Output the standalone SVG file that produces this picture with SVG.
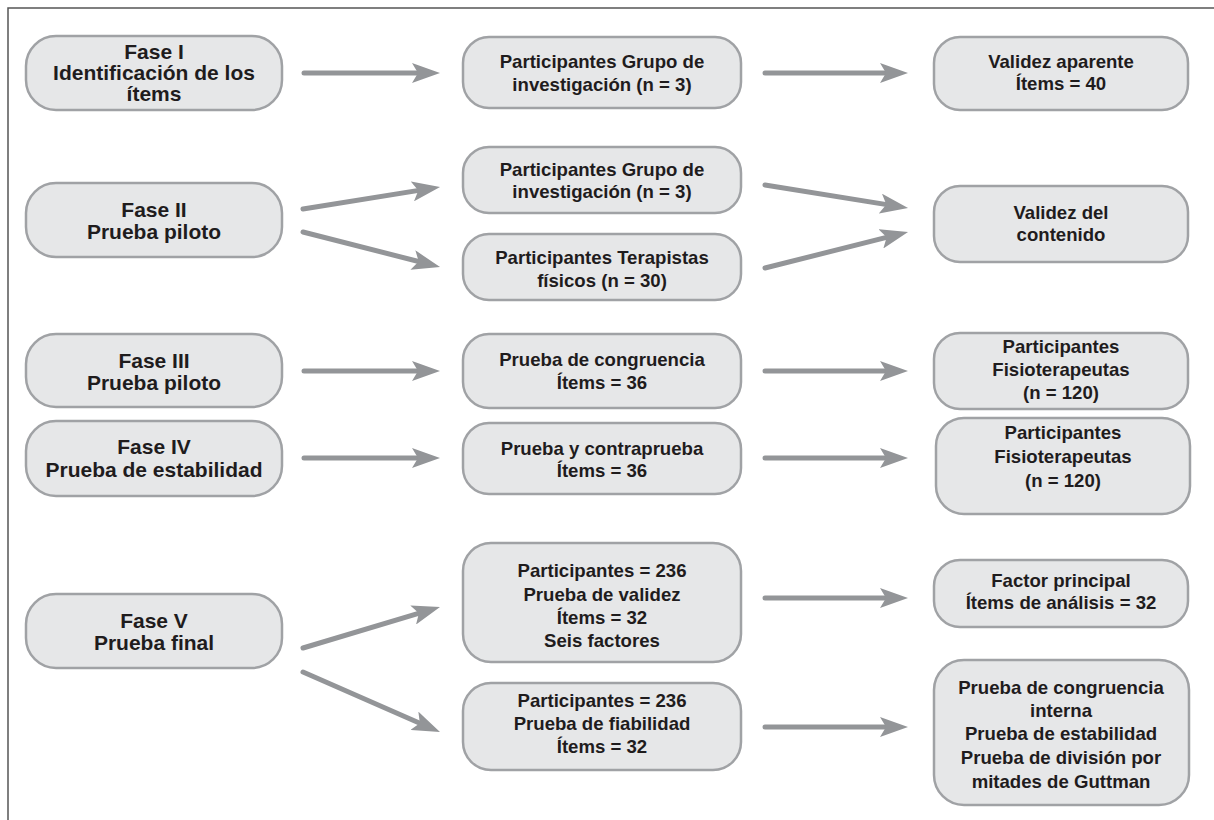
<svg xmlns="http://www.w3.org/2000/svg" width="1214" height="820" viewBox="0 0 1214 820">
<style>
.n{fill:#e6e7e8;stroke:#a0a2a5;stroke-width:2.5}
.t{font-family:"Liberation Sans",Arial,sans-serif;font-weight:bold;fill:#1f1c1d;text-anchor:middle}
.f1{font-size:21px}
.f2{font-size:18.6px}
.c{stroke:#939598;stroke-width:5;stroke-linecap:round;fill:none;marker-end:url(#ah)}
</style>
<defs>
<marker id="ah" markerWidth="28" markerHeight="20" refX="16" refY="10" orient="auto" markerUnits="userSpaceOnUse">
<path d="M0,0 L28,10 L0,20 L6,10 z" fill="#939598"/>
</marker>
</defs>
<rect width="1214" height="820" fill="#ffffff"/>
<path d="M8,820 L8,8 L1214,8" fill="none" stroke="#555" stroke-width="1.5"/>

<g id="connectors">
<line class="c" x1="304" y1="73" x2="428" y2="73"/>
<line class="c" x1="765" y1="73" x2="896" y2="73"/>
<line class="c" x1="303" y1="209" x2="428.2" y2="188.9"/>
<line class="c" x1="303" y1="232" x2="428.4" y2="264"/>
<line class="c" x1="765" y1="185" x2="896.2" y2="206.1"/>
<line class="c" x1="765" y1="268" x2="896.4" y2="234.9"/>
<line class="c" x1="304" y1="371" x2="428" y2="371"/>
<line class="c" x1="765" y1="371" x2="896" y2="371"/>
<line class="c" x1="304" y1="458" x2="428" y2="458"/>
<line class="c" x1="765" y1="458" x2="896" y2="458"/>
<line class="c" x1="303" y1="648" x2="428.5" y2="610.4"/>
<line class="c" x1="303" y1="672" x2="429" y2="727.2"/>
<line class="c" x1="765" y1="598" x2="896" y2="598"/>
<line class="c" x1="765" y1="727" x2="896" y2="727"/>
</g>

<g id="fase1">
<rect class="n" x="26" y="36" width="256" height="74" rx="30"/>
<text class="t f1"><tspan x="154" y="59">Fase I</tspan><tspan x="154" y="80">Identificación de los</tspan><tspan x="154" y="101">ítems</tspan></text>
</g>
<g id="fase2">
<rect class="n" x="26" y="183" width="256" height="74" rx="30"/>
<text class="t f1"><tspan x="154" y="217">Fase II</tspan><tspan x="154" y="239">Prueba piloto</tspan></text>
</g>
<g id="fase3">
<rect class="n" x="26" y="334" width="256" height="73" rx="30"/>
<text class="t f1"><tspan x="154" y="368">Fase III</tspan><tspan x="154" y="390">Prueba piloto</tspan></text>
</g>
<g id="fase4">
<rect class="n" x="26" y="421" width="256" height="75" rx="30"/>
<text class="t f1"><tspan x="154" y="454">Fase IV</tspan><tspan x="154" y="477">Prueba de estabilidad</tspan></text>
</g>
<g id="fase5">
<rect class="n" x="26" y="594" width="256" height="74" rx="30"/>
<text class="t f1"><tspan x="154" y="628">Fase V</tspan><tspan x="154" y="650">Prueba final</tspan></text>
</g>

<g id="grupo1">
<rect class="n" x="463" y="37" width="278" height="71" rx="26"/>
<text class="t f2"><tspan x="602" y="68">Participantes Grupo de</tspan><tspan x="602" y="91">investigación (n = 3)</tspan></text>
</g>
<g id="grupo2">
<rect class="n" x="463" y="147" width="278" height="66" rx="26"/>
<text class="t f2"><tspan x="602" y="176">Participantes Grupo de</tspan><tspan x="602" y="198">investigación (n = 3)</tspan></text>
</g>
<g id="terapistas">
<rect class="n" x="463" y="234" width="278" height="66" rx="26"/>
<text class="t f2"><tspan x="602" y="264">Participantes Terapistas</tspan><tspan x="602" y="287">físicos (n = 30)</tspan></text>
</g>
<g id="congruencia">
<rect class="n" x="463" y="334" width="278" height="74" rx="26"/>
<text class="t f2"><tspan x="602" y="366">Prueba de congruencia</tspan><tspan x="602" y="389">Ítems = 36</tspan></text>
</g>
<g id="contraprueba">
<rect class="n" x="463" y="423" width="278" height="71" rx="26"/>
<text class="t f2"><tspan x="602" y="455">Prueba y contraprueba</tspan><tspan x="602" y="477">Ítems = 36</tspan></text>
</g>
<g id="validez">
<rect class="n" x="463" y="543" width="278" height="119" rx="28"/>
<text class="t f2"><tspan x="602" y="577">Participantes = 236</tspan><tspan x="602" y="601">Prueba de validez</tspan><tspan x="602" y="624">Ítems = 32</tspan><tspan x="602" y="647">Seis factores</tspan></text>
</g>
<g id="fiabilidad">
<rect class="n" x="463" y="683" width="278" height="87" rx="28"/>
<text class="t f2"><tspan x="602" y="707">Participantes = 236</tspan><tspan x="602" y="730">Prueba de fiabilidad</tspan><tspan x="602" y="753">Ítems = 32</tspan></text>
</g>

<g id="aparente">
<rect class="n" x="934" y="37" width="254" height="73" rx="26"/>
<text class="t f2"><tspan x="1061" y="68">Validez aparente</tspan><tspan x="1061" y="90">Ítems = 40</tspan></text>
</g>
<g id="contenido">
<rect class="n" x="934" y="186" width="254" height="76" rx="26"/>
<text class="t f2"><tspan x="1061" y="219">Validez del</tspan><tspan x="1061" y="241">contenido</tspan></text>
</g>
<g id="fisio1">
<rect class="n" x="934" y="333" width="254" height="76" rx="26"/>
<text class="t f2"><tspan x="1061" y="353">Participantes</tspan><tspan x="1061" y="376">Fisioterapeutas</tspan><tspan x="1061" y="399">(n = 120)</tspan></text>
</g>
<g id="fisio2">
<rect class="n" x="936" y="418" width="254" height="96" rx="28"/>
<text class="t f2"><tspan x="1063" y="439">Participantes</tspan><tspan x="1063" y="463">Fisioterapeutas</tspan><tspan x="1063" y="487">(n = 120)</tspan></text>
</g>
<g id="factor">
<rect class="n" x="934" y="560" width="254" height="67" rx="26"/>
<text class="t f2"><tspan x="1061" y="587">Factor principal</tspan><tspan x="1061" y="609">Ítems de análisis = 32</tspan></text>
</g>
<g id="guttman">
<rect class="n" x="934" y="660" width="255" height="145" rx="30"/>
<text class="t f2"><tspan x="1061" y="694">Prueba de congruencia</tspan><tspan x="1061" y="717">interna</tspan><tspan x="1061" y="740">Prueba de estabilidad</tspan><tspan x="1061" y="764">Prueba de división por</tspan><tspan x="1061" y="788">mitades de Guttman</tspan></text>
</g>
</svg>
